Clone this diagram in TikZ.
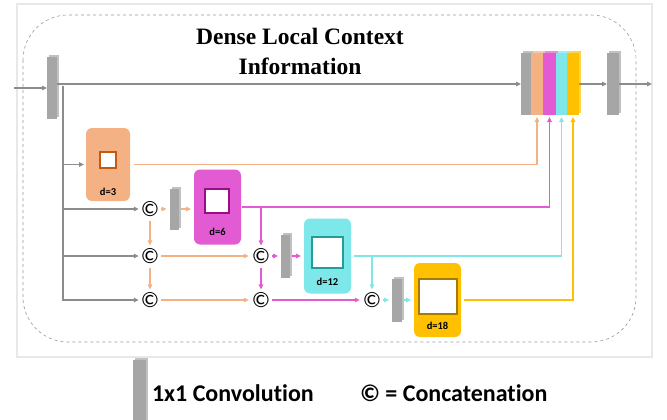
\documentclass[tikz,border=0pt]{standalone}
\usepackage{fontspec}
\setmainfont{Liberation Serif}
\newfontfamily\calfont[Ligatures=NoCommon]{Carlito}
\usetikzlibrary{arrows.meta,shadows}
\definecolor{convgray}{HTML}{A6A6A6}
\definecolor{linegray}{HTML}{8C8C8C}
\definecolor{dorange}{HTML}{F4B183}
\definecolor{dorangek}{HTML}{C55A11}
\definecolor{dmag}{HTML}{E35BD2}
\definecolor{dmagk}{HTML}{990C8A}
\definecolor{dcyan}{HTML}{7EE7E9}
\definecolor{dcyank}{HTML}{1F9E9C}
\definecolor{dyel}{HTML}{FFC000}
\definecolor{dyelk}{HTML}{A67C00}

\begin{document}
\begin{tikzpicture}
[x=1pt,y=-1pt,every node/.style={inner sep=0pt,outer sep=0pt},
 conv/.style={fill=#1,minimum width=10pt,minimum height=62pt,
   general shadow={fill=#1!70!white,shadow xshift=2pt,shadow yshift=2pt}},
 conv/.default=convgray,
 dbox/.style={fill=#1,rounded corners=6pt,minimum width=47pt,minimum height=75pt},
 kern/.style={draw=#1,fill=white,line width=2.2pt},
 dlab/.style={font=\calfont\bfseries\fontsize{10.5}{10.5}\selectfont},
 cat/.style={font=\calfont\fontsize{22}{22}\selectfont},
 leg/.style={font=\calfont\bfseries\fontsize{24}{24}\selectfont},
 arr/.style={draw=#1,line width=1.1pt,-{Triangle[length=5pt,width=4.5pt]}},
 ln/.style={draw=#1,line width=1.1pt}]
\useasboundingbox (0,0) rectangle (667,420);
\draw[draw=black!9,line width=1.5pt] (17,4) rectangle (652,357);
\draw[black!40,dashed,line width=0.6pt,rounded corners=45pt] (23,15) rectangle (636,342);
\node[align=center,font=\bfseries\fontsize{23.5}{30}\selectfont] (title) at (300,51) {Dense Local Context\\Information};

% 1x1 convolutions
\node[conv] (inconv) at (52,88) {};
\node[conv,minimum width=9pt,minimum height=41pt] (conv1) at (174,209) {};
\node[conv,minimum width=9pt,minimum height=43pt] (conv2) at (285.5,256) {};
\node[conv,minimum width=10pt,minimum height=43pt] (conv3) at (397,300) {};
\node[conv,minimum width=12pt] (outconv) at (613,84) {};

% dilated blocks
\node[dbox=dorange,minimum width=44pt,minimum height=73pt] (d3) at (108,164.5) {};
\node[kern=dorangek,minimum size=16pt] (k3) at (108,160) {};
\node[dlab] (l3) at (108,192) {d=3};
\node[dbox=dmag] (d6) at (217.5,207) {};
\node[kern=dmagk,minimum size=24pt] (k6) at (217,201) {};
\node[dlab] (l6) at (217.5,232) {d=6};
\node[dbox=dcyan] (d12) at (327.5,256) {};
\node[kern=dcyank,minimum size=31pt] (k12) at (327.5,252.5) {};
\node[dlab] (l12) at (327.5,282) {d=12};
\node[dbox=dyel,minimum height=74pt] (d18) at (437.5,300) {};
\node[kern=dyelk,minimum width=38pt,minimum height=35pt] (k18) at (438,296.5) {};
\node[dlab] (l18) at (437.5,326) {d=18};

% concatenations
\node[cat] (c1) at (150,209) {©};
\node[cat] (c2a) at (150,256) {©};
\node[cat] (c2b) at (261,256) {©};
\node[cat] (c3a) at (150,300) {©};
\node[cat] (c3b) at (261,300) {©};
\node[cat] (c3c) at (372,300) {©};

% output stack
\node[conv] (sgray) at (526,84) {};
\node[conv=dorange,minimum width=12pt] (sor) at (537,84) {};
\node[conv=dmag,minimum width=13pt] (smag) at (549.5,84) {};
\node[conv=dcyan,minimum width=11pt] (scyan) at (561.5,84) {};
\node[conv=dyel,minimum width=12pt] (syel) at (573,84) {};

\coordinate (in) at (14,88);
\coordinate (out) at (652,84);
\coordinate (top) at (63,86);
\draw[arr=linegray] (in) -- (inconv.west);
\draw[arr=linegray] (inconv.east |- sgray) -- (sgray.west);
\draw[arr=linegray] (syel.east) -- (outconv.west);
\draw[arr=linegray] (outconv.east) -- (out);
\draw[arr=linegray] (top) |- ([xshift=-2pt]c3a.west);
\foreach \t in {d3,c1,c2a}
  \draw[arr=linegray,shorten >=2pt] (top |- \t) -- (\t.west);

\foreach \a/\b/\c in {c1/conv1/dorange,conv1/d6/dorange,c2a/c2b/dorange,c3a/c3b/dorange,
  c2b/conv2/dmag,conv2/d12/dmag,c3b/c3c/dmag,c3c/conv3/dcyan,conv3/d18/dcyan}
  \draw[arr=\c,shorten <=2pt,shorten >=3pt] (\a.east) -- (\a.east -| \b.west);
\foreach \a/\b/\c in {c1/c2a/dorange,c2a/c3a/dorange,c2b/c3b/dmag}
  \draw[arr=\c,shorten <=4pt,shorten >=3pt] (\a.south) -- (\a.south |- \b.north);

\draw[arr=dorange,shorten >=2pt] ([xshift=4pt]d3.east) -| (sor.south);
\draw[arr=dmag,shorten >=2pt] ([xshift=1pt]d6.east) -| (smag.south);
\draw[arr=dcyan,shorten >=2pt] ([xshift=3pt]d12.east) -| (scyan.south);
\draw[arr=dyel,shorten >=2pt] ([xshift=3pt]d18.east) -| (syel.south);
\draw[arr=dmag,shorten >=3pt] (c2b |- d6.east) -- (c2b.north);
\draw[arr=dcyan,shorten >=3pt] (c3c |- d12.east) -- (c3c.north);

% legend
\node[conv,minimum width=13pt,minimum height=70pt] (legconv) at (139.5,395) {};
\node[leg,anchor=west] (legtxt) at (152,393) {1x1 Convolution};
\node[leg,anchor=west] (legcat) at (360,393) {© = Concatenation};
\end{tikzpicture}
\end{document}
